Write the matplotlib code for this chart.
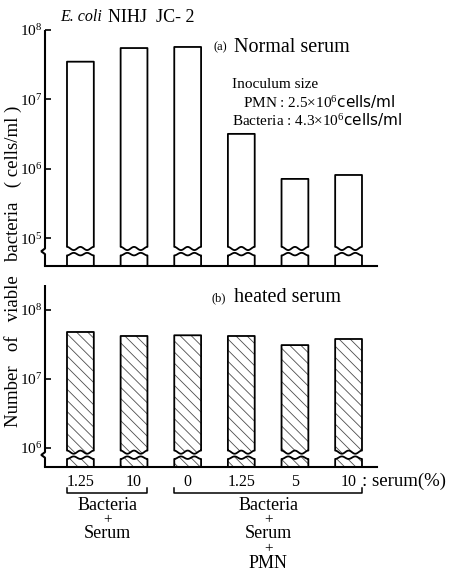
import numpy as np
import matplotlib
matplotlib.use("Agg")
import matplotlib.pyplot as plt
from matplotlib.path import Path
from matplotlib.patches import PathPatch
from matplotlib.transforms import blended_transform_factory

plt.rcParams['font.family'] = ['Liberation Serif', 'DejaVu Serif']
plt.rcParams['mathtext.fontset'] = 'custom'
plt.rcParams['mathtext.rm'] = 'Liberation Serif'
plt.rcParams['mathtext.it'] = 'Liberation Serif:italic'
plt.rcParams['mathtext.sf'] = 'DejaVu Sans'
plt.rcParams['hatch.linewidth'] = 0.6

# data
serum_pct = ["1.25", "10", "0", "1.25", "5", "10"]
normal_serum = [3.5e7, 5.5e7, 5.7e7, 3.2e6, 7.2e5, 8.2e5]
heated_serum = [4.8e7, 4.2e7, 4.3e7, 4.2e7, 3.1e7, 3.8e7]
group_labels = ["Bacteria\n+\nSerum", "Bacteria\n+\nSerum\n+\nPMN"]
group_bars = [(0, 1), (2, 5)]

W, H = 457, 573
fig = plt.figure(figsize=(W / 100, H / 100), dpi=100)

ax_a = fig.add_axes([45 / W, 1 - 266 / H, 332 / W, 236 / H])
ax_b = fig.add_axes([45 / W, 1 - 467 / H, 332 / W, 182 / H])

x = np.arange(len(serum_pct))
bw = 0.5


def broken_bar(ax, xc, top, hi, lo, hatch=None):
    # bar drawn in two pieces with a wavy break (hi/lo in log10 units)
    bottom = ax.get_ylim()[0]
    amp = 1.6 / 69.5
    t = np.linspace(0, 1, 40)
    xs = xc - bw / 2 + bw * t
    xl, xr = xc - bw / 2, xc + bw / 2
    up_wave = 10 ** (hi + amp * np.cos(4 * np.pi * t))
    lo_wave = 10 ** (lo - amp * np.cos(4 * np.pi * t) * 0.8)
    upper = [(xl, top), (xr, top)] + list(zip(xs[::-1], up_wave[::-1])) + [(xl, top)]
    lower = [(xl, bottom), (xr, bottom)] + list(zip(xs[::-1], lo_wave[::-1])) + [(xl, bottom)]
    for verts in (upper, lower):
        path = Path(verts, closed=True)
        if hatch:
            ax.add_patch(PathPatch(path, facecolor='white', edgecolor='0.3',
                                   hatch=hatch, lw=0))
        ax.add_patch(PathPatch(path, fill=False, edgecolor='black', lw=1.3,
                               joinstyle='round'))


def style_axis(ax, ymin, ymax, ticks, hi, lo):
    ax.set_yscale('log')
    ax.set_xlim(-0.66, 5.53)
    ax.set_ylim(ymin, ymax)
    for s in ['top', 'right', 'left']:
        ax.spines[s].set_visible(False)
    ax.spines['bottom'].set_linewidth(1.5)
    ax.set_yticks(ticks)
    ax.set_yticklabels([r'$10^{%d}$' % round(np.log10(v)) for v in ticks])
    ax.yaxis.set_minor_locator(matplotlib.ticker.NullLocator())
    ax.tick_params(axis='y', direction='in', length=4, width=1.2, pad=2, labelsize=11)
    tr = ax.get_yaxis_transform()
    d = 4 / 332
    ax.plot([0, 0, -d], [ymax, 10 ** hi, 10 ** (hi - 3 / 69.5)], color='black', lw=1.5,
            transform=tr, clip_on=False, solid_capstyle='butt')
    ax.plot([-d, 0, 0], [10 ** (lo + 3 / 69.5), 10 ** lo, ymin], color='black', lw=1.5,
            transform=tr, clip_on=False, solid_capstyle='butt')


# (a) normal serum
style_axis(ax_a, 10 ** 4.604, 1e8, [1e5, 1e6, 1e7, 1e8], 4.856, 4.775)
ax_a.set_xticks([])
for xi, v in zip(x, normal_serum):
    broken_bar(ax_a, xi, v, 4.856, 4.775)

# (b) heated serum
style_axis(ax_b, 10 ** 5.725, 10 ** 8.362, [1e6, 1e7, 1e8], 5.94, 5.86)
for xi, v in zip(x, heated_serum):
    broken_bar(ax_b, xi, v, 5.94, 5.86, hatch='\\\\\\')
ax_b.set_xticks(x, serum_pct)
ax_b.tick_params(axis='x', length=0, pad=5, labelsize=11.5)


def ft(xp, yp, s, **kw):
    fig.text(xp / W, 1 - yp / H, s, va='center', **kw)


ft(60, 17, "E. coli", fontsize=11.5, style='italic')
ft(108, 17, "NIHJ  JC- 2", fontsize=13)
ft(213, 47, "(a)", fontsize=9)
ft(234, 47, "Normal serum", fontsize=14.5)
ft(232, 85, "Inoculum size", fontsize=11)
ft(243, 101, r"PMN : 2.5$\times$10$^6$$\mathsf{cells/ml}$", fontsize=11)
ft(232, 119, r"Bacteria : 4.3$\times$10$^6$$\mathsf{cells/ml}$", fontsize=11)
ft(212, 298, "(b)", fontsize=9)
ft(234, 298, "heated serum", fontsize=14.5)
ft(362, 481, ": serum(%)", fontsize=13.5)
ft(13, 266, "Number   of   viable   bacteria   ( cells/ml )", fontsize=13.5,
   rotation=90, ha='center')

# group brackets under the x axis
trans = blended_transform_factory(ax_b.transData, fig.transFigure)
for label, (i0, i1) in zip(group_labels, group_bars):
    x0, x1 = i0 - bw / 2, i1 + bw / 2
    y0, y1 = 1 - 493 / H, 1 - 488 / H
    ax_b.plot([x0, x0, x1, x1], [y1, y0, y0, y1], color='black', lw=1.1,
              transform=trans, clip_on=False)
    for k, line in enumerate(label.split("\n")):
        ax_b.text((i0 + i1) / 2, 1 - (505 + 14.5 * k) / H, line, transform=trans,
                  ha='center', va='center', fontsize=13 if line != "+" else 11)

fig.savefig("out.png", dpi=100)
